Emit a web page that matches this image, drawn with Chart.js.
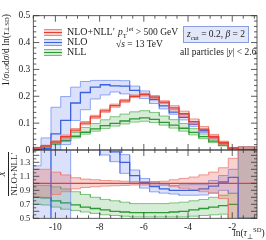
<!DOCTYPE html>
<html>
<head>
<meta charset="utf-8">
<script src="https://cdn.jsdelivr.net/npm/chart.js@4.4.0/dist/chart.umd.min.js"></script>
<style>
body { margin: 0; background: #fff; }
#wrap { position: relative; width: 266px; height: 240px; font-family: "Liberation Serif", serif; color: #222; }
canvas { position: absolute; left: 0; top: 0; }
.t { position: absolute; white-space: nowrap; font-size: 10px; line-height: 1; }
.sw { position: absolute; left: 44px; width: 18px; height: 5px; }
.sw i { position: absolute; left: 0; right: 0; top: 2px; height: 1.3px; }
sub, sup { font-size: 70%; line-height: 0; }
.rot { position: absolute; transform: rotate(-90deg); display: flex; justify-content: center; align-items: center; white-space: nowrap; line-height: 1; }
</style>
</head>
<body>
<div id="wrap">
  <canvas id="topChart" width="266" height="240"></canvas>
  <canvas id="botChart" width="266" height="240"></canvas>

  <div class="sw" style="top:29px;background:rgba(235,90,80,0.3);border-top:1px solid rgba(235,120,110,.8);border-bottom:1px solid rgba(235,120,110,.8)"><i style="background:#e3402f"></i></div>
  <div class="sw" style="top:39px;background:rgba(90,120,230,0.25);border-top:1px solid rgba(110,140,240,.8);border-bottom:1px solid rgba(110,140,240,.8)"><i style="background:#3a62e0"></i></div>
  <div class="sw" style="top:49px;background:rgba(70,170,70,0.25);border-top:1px solid rgba(90,180,90,.8);border-bottom:1px solid rgba(90,180,90,.8)"><i style="background:#2a9a34"></i></div>
  <div class="t" style="left:67px;top:27px">NLO+NLL′</div>
  <div class="t" style="left:67px;top:37px">NLO</div>
  <div class="t" style="left:67px;top:47px">NLL</div>

  <div class="t" style="left:118px;top:28px;font-size:9.5px"><i>p</i><sub>T</sub><sup>jet</sup> &gt; 500 GeV</div>
  <div class="t" style="left:116px;top:40px;font-size:9.5px">√<i>s</i> = 13 TeV</div>
  <div class="t" style="left:183px;top:26px;width:64px;height:15px;background:#e3e7fa;border:1px solid #8a9de0;font-size:9.5px;text-align:center;line-height:15px"><i>z</i><sub>cut</sub> = 0.2, <i>β</i> = 2</div>
  <div class="t" style="left:180px;top:48px;font-size:9.5px">all particles |<i>y</i>| &lt; 2.6</div>

  <div class="rot" style="left:-53px;top:44px;width:120px;height:12px;font-size:9.5px">1/<i>σ</i><sub>LO</sub>d<i>σ</i>/d ln(<i>τ</i><sub>⊥</sub><sup>SD</sup>)</div>
  <div class="rot" style="left:-22px;top:164px;width:60px;height:20px;font-size:9px">
    <div style="display:inline-block;text-align:center">
      <div style="border-bottom:0.8px solid #222;padding-bottom:1px"><i>X</i></div>
      <div style="padding-top:1px">NLO+NLL′</div>
    </div>
  </div>
  <div class="t" style="left:233px;top:229px;font-size:9.5px">ln(<i>τ</i><sub>⊥</sub><sup>SD</sup>)</div>
</div>
<script>
// bin edges in ln(tau)
const edges = [-11.1, -10.65, -10.2, -9.76, -9.31, -8.87, -8.42, -7.97, -7.53, -7.08, -6.64, -6.19,
  -5.74, -5.30, -4.85, -4.41, -3.96, -3.51, -3.07, -2.62, -2.18, -1.73, -0.88];

// NLO+NLL'
const nloNll   = [0.008, 0.015, 0.030, 0.050, 0.074, 0.100, 0.123, 0.146, 0.165, 0.183, 0.200, 0.206, 0.197, 0.178, 0.157, 0.135, 0.106, 0.078, 0.050, 0.027, 0.007, 0.002];
const nloNllLo = [0.0064, 0.012, 0.0252, 0.044, 0.0681, 0.094, 0.1169, 0.1402, 0.1592, 0.1775, 0.195, 0.2009, 0.1921, 0.1727, 0.1492, 0.1256, 0.0965, 0.0686, 0.043, 0.0211, 0.0028, 0];
const nloNllHi = [0.0096, 0.018, 0.0348, 0.056, 0.0799, 0.106, 0.1292, 0.1518, 0.1708, 0.1885, 0.205, 0.2112, 0.2019, 0.1833, 0.1649, 0.1445, 0.1155, 0.0874, 0.058, 0.033, 0.0095, 0.012];

// NLO
const nlo   = [0.002, 0.005, 0.060, 0.110, 0.175, 0.214, 0.234, 0.243, 0.239, 0.238, 0.222, 0.208, 0.188, 0.164, 0.141, 0.1215, 0.0954, 0.0718, 0.048, 0.0275, 0.0076, 0.001];
const nloLo = [0, 0, 0, 0.020, 0.110, 0.150, 0.190, 0.205, 0.216, 0.209, 0.200, 0.192, 0.173, 0.153, 0.133, 0.112, 0.088, 0.065, 0.043, 0.0243, 0.006, 0];
const nloHi = [0.010, 0.045, 0.159, 0.199, 0.234, 0.255, 0.259, 0.259, 0.259, 0.258, 0.238, 0.220, 0.201, 0.176, 0.152, 0.132, 0.104, 0.0765, 0.052, 0.030, 0.0084, 0.012];

// NLL
const nll   = [0.0064, 0.0119, 0.0225, 0.036, 0.0511, 0.066, 0.0787, 0.0905, 0.099, 0.108, 0.116, 0.1195, 0.1143, 0.1032, 0.0926, 0.081, 0.0657, 0.0499, 0.033, 0.0184, 0.0049, 0.001];
const nllLo = [0.0056, 0.01035, 0.0198, 0.0315, 0.0451, 0.059, 0.0701, 0.0803, 0.0891, 0.097, 0.104, 0.1071, 0.1024, 0.0926, 0.0816, 0.0702, 0.0562, 0.0421, 0.0275, 0.0151, 0.00315, 0];
const nllHi = [0.00776, 0.01455, 0.0285, 0.046, 0.0651, 0.084, 0.0984, 0.1124, 0.1238, 0.1336, 0.142, 0.1463, 0.1399, 0.1264, 0.113, 0.0986, 0.0795, 0.060, 0.040, 0.0224, 0.006, 0.012];

const xTicks = [-10, -8, -6, -4, -2];
const yTopTicks = [0, 0.1, 0.2, 0.3, 0.4, 0.5];
const yBotTicks = [0.5, 0.6, 0.7, 0.8, 0.9, 1, 1.1, 1.2, 1.3, 1.4];

const C = {
  red:   { line: '#e3402f', fill: 'rgba(235,90,80,0.28)',  edge: 'rgba(236,120,110,0.75)' },
  blue:  { line: '#3a62e0', fill: 'rgba(90,120,230,0.22)', edge: 'rgba(110,140,240,0.75)' },
  green: { line: '#2a9a34', fill: 'rgba(70,170,70,0.22)',  edge: 'rgba(90,180,90,0.75)' }
};

// histogram -> step points, optionally divided by a reference histogram
function steps(vals, ref) {
  const pts = [];
  vals.forEach((v, i) => {
    const y = ref ? v / ref[i] : v;
    pts.push({ x: edges[i], y: y }, { x: edges[i + 1], y: y });
  });
  return pts;
}

function bandSets(lo, mid, hi, col, ref, ord) {
  return [
    { data: steps(hi, ref), borderColor: col.edge, borderWidth: 1, backgroundColor: col.fill, fill: '+1', order: ord + 2 },
    { data: steps(lo, ref), borderColor: col.edge, borderWidth: 1, fill: false, order: ord + 1 },
    { data: steps(mid, ref), borderColor: col.line, borderWidth: 1.3, fill: false, order: ord }
  ];
}

function frameTicks(xMajor, yMajorStep, yMinorStep, yLo, yHi) {
  return {
    id: 'frameTicks',
    afterDatasetsDraw(chart) {
      const { ctx, chartArea: a, scales: { x, y } } = chart;
      ctx.save();
      ctx.strokeStyle = '#333';
      ctx.lineWidth = 0.8;
      ctx.strokeRect(a.left, a.top, a.right - a.left, a.bottom - a.top);
      ctx.beginPath();
      for (let v = -11; v <= -1; v += 0.5) {
        const px = x.getPixelForValue(v);
        const len = xMajor.includes(v) ? 6 : 3;
        ctx.moveTo(px, a.bottom); ctx.lineTo(px, a.bottom - len);
        ctx.moveTo(px, a.top); ctx.lineTo(px, a.top + len);
      }
      const n = Math.round((yHi - yLo) / yMinorStep);
      for (let k = 0; k <= n; k++) {
        const v = yLo + k * yMinorStep;
        const py = y.getPixelForValue(v);
        if (py < a.top - 0.5 || py > a.bottom + 0.5) continue;
        const major = Math.abs(v / yMajorStep - Math.round(v / yMajorStep)) < 1e-6;
        const len = major ? 6 : 3;
        ctx.moveTo(a.left, py); ctx.lineTo(a.left + len, py);
        ctx.moveTo(a.right, py); ctx.lineTo(a.right - len, py);
      }
      ctx.stroke();
      ctx.restore();
    }
  };
}

const tickFont = { family: '"Liberation Serif", serif', size: 9.5 };

new Chart(document.getElementById('topChart'), {
  type: 'line',
  data: {
    datasets: [
      ...bandSets(nloNllLo, nloNll, nloNllHi, C.red, null, 0),
      ...bandSets(nloLo, nlo, nloHi, C.blue, null, 10),
      ...bandSets(nllLo, nll, nllHi, C.green, null, 20)
    ]
  },
  options: {
    responsive: false,
    animation: false,
    layout: { padding: { top: 15.7, right: 9, bottom: 90, left: 0 } },
    elements: { point: { radius: 0 }, line: { tension: 0 } },
    scales: {
      x: { type: 'linear', min: -11, max: -0.88, display: false },
      y: {
        min: 0, max: 0.5,
        afterFit(s) { s.width = 33.3; s.paddingTop = 0; s.paddingBottom = 0; },
        afterBuildTicks(s) { s.ticks = yTopTicks.map(v => ({ value: v })); },
        ticks: { padding: 3, color: '#222', font: tickFont, callback: v => (v === 0 ? '0' : v.toFixed(1)) },
        grid: { display: false, drawTicks: false },
        border: { display: false }
      }
    },
    plugins: { legend: { display: false }, tooltip: { enabled: false } }
  },
  plugins: [frameTicks([-10, -8, -6, -4, -2], 0.1, 0.02, 0, 0.5)]
});

new Chart(document.getElementById('botChart'), {
  type: 'line',
  data: {
    datasets: [
      ...bandSets(nloNllLo, nloNll, nloNllHi, C.red, nloNll, 0),
      ...bandSets(nloLo, nlo, nloHi, C.blue, nloNll, 10),
      ...bandSets(nllLo, nll, nllHi, C.green, nloNll, 20)
    ]
  },
  options: {
    responsive: false,
    animation: false,
    layout: { padding: { top: 150, right: 9, bottom: 0, left: 0 } },
    elements: { point: { radius: 0 }, line: { tension: 0 } },
    scales: {
      x: {
        type: 'linear', min: -11, max: -0.88,
        afterFit(s) { s.height = 21.7; s.paddingLeft = 0; s.paddingRight = 0; },
        afterBuildTicks(s) { s.ticks = xTicks.map(v => ({ value: v })); },
        ticks: { padding: 3, color: '#222', font: tickFont, maxRotation: 0 },
        grid: { display: false, drawTicks: false },
        border: { display: false }
      },
      y: {
        min: 0.5, max: 1.476,
        afterFit(s) { s.width = 33.3; s.paddingTop = 0; s.paddingBottom = 0; },
        afterBuildTicks(s) { s.ticks = yBotTicks.map(v => ({ value: v })); },
        ticks: { padding: 3, color: '#222', font: { family: '"Liberation Serif", serif', size: 8.5 }, callback: v => String(Math.round(v * 10) / 10) },
        grid: { display: false, drawTicks: false },
        border: { display: false }
      }
    },
    plugins: { legend: { display: false }, tooltip: { enabled: false } }
  },
  plugins: [frameTicks([-10, -8, -6, -4, -2], 0.1, 0.05, 0.5, 1.5)]
});
</script>
</body>
</html>
